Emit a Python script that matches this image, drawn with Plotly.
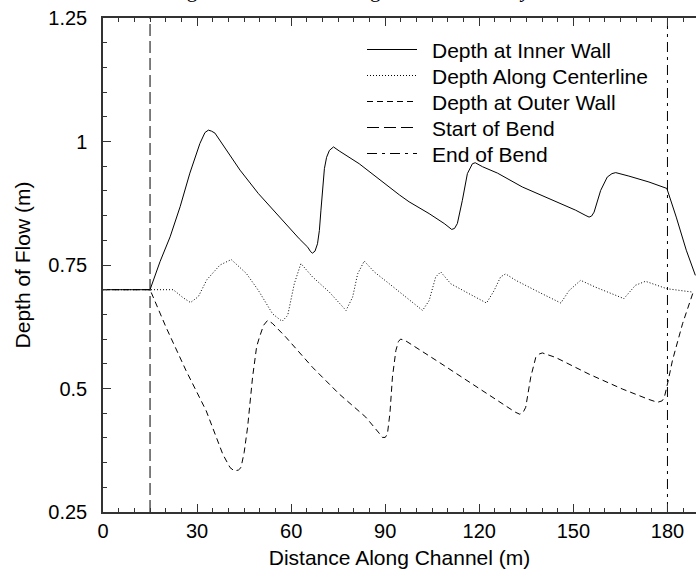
import plotly.graph_objects as go

# Channel geometry (m)
BEND_START = 15
BEND_END = 180

# Depth at inner wall
inner_x = [0, 15, 18.2, 21.4, 24.6, 27.7, 30.9, 32.5, 33.6, 34.6, 35.7, 39.4, 43.7, 49.5, 56.2,
           62.6, 65.3, 66.2, 66.8, 67.6, 68.4, 69.0, 69.5, 70.0, 70.6, 71.3, 72.2, 73.5, 75.3,
           81.7, 89.1, 94.5, 97.6, 104.0, 108.8, 110.3, 111.2, 112.1, 113.0, 114.6, 116.2,
           117.8, 118.7, 121.0, 125.8, 133.7, 142.2, 150.7, 154.0, 155.0, 155.8, 156.6,
           158.7, 160.8, 162.3, 163.5, 167.7, 174.1, 179.8, 182.8, 186.0, 188.9]
inner_y = [0.700, 0.700, 0.757, 0.807, 0.868, 0.936, 0.996, 1.018, 1.023, 1.021, 1.017, 0.983,
           0.942, 0.895, 0.847, 0.803, 0.786, 0.777, 0.774, 0.778, 0.793, 0.820, 0.861, 0.905,
           0.945, 0.968, 0.982, 0.989, 0.981, 0.955, 0.918, 0.892, 0.878, 0.854, 0.834, 0.826,
           0.822, 0.824, 0.834, 0.881, 0.935, 0.955, 0.957, 0.949, 0.936, 0.908, 0.884, 0.861,
           0.850, 0.847, 0.849, 0.857, 0.901, 0.928, 0.935, 0.937, 0.930, 0.918, 0.905, 0.847,
           0.780, 0.729]

# Depth along the centerline
center_x = [0, 15, 22.4, 25.5, 27.9, 30.4, 33.1, 37.3, 40.9, 45.7, 49.5, 54.1, 57.1, 58.9,
            61.0, 63.1, 66.8, 72.2, 77.5, 79.6, 81.2, 83.3, 86.5, 91.3, 96.6, 101.9, 104.0,
            106.1, 107.7, 110.9, 116.7, 122.3, 124.7, 126.8, 128.4, 131.6, 139.0, 146.0,
            148.6, 152.3, 157.1, 166.1, 169.8, 173.0, 179.8, 188.2]
center_y = [0.700, 0.700, 0.700, 0.684, 0.674, 0.686, 0.720, 0.750, 0.761, 0.733, 0.699, 0.651,
            0.636, 0.648, 0.712, 0.753, 0.726, 0.695, 0.658, 0.685, 0.732, 0.758, 0.736, 0.712,
            0.685, 0.658, 0.678, 0.726, 0.736, 0.712, 0.692, 0.673, 0.698, 0.726, 0.732, 0.719,
            0.695, 0.673, 0.698, 0.719, 0.705, 0.682, 0.709, 0.717, 0.702, 0.695]

# Depth at outer wall
outer_x = [0, 15, 20.1, 26.5, 32.9, 38.2, 40.5, 41.9, 43.2, 44.0, 45.0, 46.1, 47.7, 49.0,
           49.9, 51.2, 52.5, 54.0, 58.3, 66.8, 75.3, 83.8, 88.0, 89.1, 90.0, 90.7, 91.5,
           92.3, 93.4, 94.2, 94.9, 96.4, 107.2, 117.8, 127.4, 131.5, 132.9, 134.0, 134.8,
           136.4, 138.0, 139.2, 140.1, 144.3, 155.0, 165.6, 174.0, 176.8, 178.3, 179.0,
           180.0, 181.6, 184.8, 188.2]
outer_y = [0.700, 0.700, 0.624, 0.536, 0.455, 0.367, 0.340, 0.333, 0.335, 0.340, 0.370, 0.421,
           0.523, 0.585, 0.604, 0.628, 0.638, 0.632, 0.604, 0.543, 0.489, 0.442, 0.410, 0.401,
           0.401, 0.408, 0.450, 0.523, 0.577, 0.595, 0.600, 0.597, 0.553, 0.509, 0.469, 0.452,
           0.448, 0.452, 0.462, 0.523, 0.563, 0.570, 0.572, 0.563, 0.529, 0.499, 0.478, 0.472,
           0.475, 0.482, 0.509, 0.557, 0.631, 0.695]

Y_MIN, Y_MAX = 0.25, 1.25
x_ticks = [0, 30, 60, 90, 120, 150, 180]
y_ticks = [0.25, 0.5, 0.75, 1, 1.25]
y_tick_text = ["0.25", "0.5", "0.75", "1", "1.25"]

SANS = "Liberation Sans, Arial, Helvetica, sans-serif"
INK = "black"

# Page layout in pixels
W, H = 696, 571
ML, MR, MT, MB = 103, 0, 18, 59
PW, PH = W - ML - MR, H - MT - MB


def paper_x(px):
    return (px - ML) / PW


def paper_y(py):
    return 1 - (py - MT) / PH


series = [
    dict(name="Depth at Inner Wall", x=inner_x, y=inner_y, dash="solid"),
    dict(name="Depth Along Centerline", x=center_x, y=center_y, dash="1px,2px"),
    dict(name="Depth at Outer Wall", x=outer_x, y=outer_y, dash="6px,4px"),
    dict(name="Start of Bend", x=[BEND_START, BEND_START], y=[Y_MIN, Y_MAX], dash="12px,5px"),
    dict(name="End of Bend", x=[BEND_END, BEND_END], y=[Y_MIN, Y_MAX], dash="10px,5px,3px,5px"),
]

fig = go.Figure()
for s in series:
    fig.add_trace(go.Scatter(x=s["x"], y=s["y"], mode="lines", name=s["name"],
                             showlegend=False,
                             line=dict(color=INK, width=1, dash=s["dash"])))

# Key in the upper right: line sample followed by its label
KEY_TOP, KEY_STEP = 49.5, 26
KEY_LINE_X0, KEY_LINE_X1, KEY_TEXT_X = 367, 417, 430
for i, s in enumerate(series):
    row = KEY_TOP + i * KEY_STEP
    fig.add_shape(type="line", xref="paper", yref="paper",
                  x0=paper_x(KEY_LINE_X0), x1=paper_x(KEY_LINE_X1),
                  y0=paper_y(row), y1=paper_y(row),
                  line=dict(color=INK, width=1, dash=s["dash"]))
    fig.add_annotation(text=s["name"], xref="paper", yref="paper",
                       x=paper_x(KEY_TEXT_X), y=paper_y(row + 1),
                       xanchor="left", yanchor="middle", showarrow=False,
                       font=dict(family=SANS, size=21, color=INK))

axis_common = dict(
    showgrid=False, zeroline=False, showline=True, linecolor="#333", linewidth=1.5,
    ticks="inside", ticklen=8, tickwidth=1, tickcolor="#333",
    tickfont=dict(family=SANS, size=20, color=INK),
)

fig.update_xaxes(
    range=[0, 189.1], tickvals=x_ticks, mirror="ticks",
    minor=dict(dtick=5, ticks="inside", ticklen=4, tickcolor="#333"),
    title=dict(text="Distance Along Channel (m)", font=dict(family=SANS, size=21, color=INK),
               standoff=10),
    **axis_common,
)
fig.update_yaxes(
    range=[Y_MIN, Y_MAX], tickvals=y_ticks, ticktext=y_tick_text,
    minor=dict(dtick=0.05, ticks="inside", ticklen=4, tickcolor="#333"),
    ticklabelstandoff=10,
    title=dict(text="Depth of Flow (m)", font=dict(family=SANS, size=21, color=INK),
               standoff=12),
    **axis_common,
)

fig.add_annotation(
    text="Flow Heights in the Bend Along the Channel for <i>y</i> = 0.7 m",
    xref="paper", yref="paper", x=paper_x(106), y=1, xanchor="left", yanchor="bottom",
    yshift=14, showarrow=False,
    font=dict(family="Liberation Serif, Times New Roman, serif", size=21, color=INK),
)

fig.update_layout(
    width=W, height=H,
    margin=dict(l=ML, r=MR, t=MT, b=MB),
    paper_bgcolor="white", plot_bgcolor="white",
    showlegend=False,
)

fig.write_html("out.html")
